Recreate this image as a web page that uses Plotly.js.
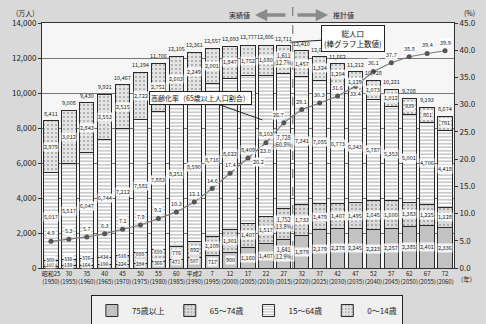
<!DOCTYPE html>
<html>
<head>
<meta charset="utf-8">
<script src="https://cdn.plot.ly/plotly-3.0.1.min.js"></script>
<style>html,body{margin:0;padding:0;background:#d9d9d9;}#chart{width:486px;height:324px;}</style>
</head>
<body>
<div id="chart"></div>
<script>
// ---- data ----
const eraLabels = ['昭和25','30','35','40','45','50','55','60','平成2','7','12','17','22','27','32','37','42','47','52','57','62','67','72'];
const westYears = [1950,1955,1960,1965,1970,1975,1980,1985,1990,1995,2000,2005,2010,2015,2020,2025,2030,2035,2040,2045,2050,2055,2060];
const totalPop = [8411,9008,9430,9921,10467,11194,11706,12105,12361,12557,12693,12777,12806,12711,12410,12066,11662,11212,10728,10221,9708,9193,8674];
const age0to14 = [2979,3012,2843,2553,2515,2722,2751,2603,2249,2001,1847,1752,1680,1611,1457,1324,1204,1129,1073,1012,939,861,791];
const age15to64 = [5017,5517,6047,6744,7212,7581,7883,8251,8590,8716,8622,8409,8103,7728,7341,7085,6773,6343,5787,5353,5001,4706,4418];
const age65to74 = [309,338,376,434,516,608,699,776,892,1109,1301,1407,1517,1752,1733,1479,1407,1495,1645,1600,1383,1225,1128];
const age75plus = [107,139,164,190,224,284,366,471,597,717,900,1160,1407,1641,1879,2179,2278,2245,2223,2257,2385,2401,2336];
const agingRate = [4.9,5.3,5.7,6.3,7.1,7.9,9.1,10.3,12.1,14.6,17.4,20.2,23.0,26.7,29.1,30.3,31.6,33.4,36.1,37.7,38.8,39.4,39.9];
const seriesNames = ['75歳以上','65～74歳','15～64歳','0～14歳'];
const shareIndex = 13; // 平成27(2015): shares shown

const idx = eraLabels.map((_, i) => i);
const tickText = eraLabels.map((e, i) => e + '<br>(' + westYears[i] + ')');
const FONT = '"Noto Sans CJK JP", "Noto Sans", sans-serif';
const fmt = v => v.toLocaleString('en-US');

// label placement tweaks (pixels) to avoid collisions, as in the reference
const rateLabelShift = {11: [10, -4, 'middle'], 12: [0, -3, 'top'], 13: [-5, 3, 'bottom'], 17: [0, -3, 'top']};
const segLabelShift = {'12-2': 12};

const barLine = {color: '#2a2a2a', width: 1};
const segs = [
  {name: seriesNames[0], y: age75plus, marker: {color: '#c2c2c2', line: barLine}},
  {name: seriesNames[1], y: age65to74, marker: {color: '#d9d9d9', line: barLine,
      pattern: {shape: '.', fgcolor: '#9a9a9a', bgcolor: '#dadada', size: 4, solidity: 0.2}}},
  {name: seriesNames[2], y: age15to64, marker: {color: '#ffffff', line: barLine,
      pattern: {shape: '-', fgcolor: '#a8a8a8', bgcolor: '#ffffff', size: 3.5, solidity: 0.3}}},
  {name: seriesNames[3], y: age0to14, marker: {color: '#e2e2e2', line: barLine,
      pattern: {shape: '.', fgcolor: '#a0a0a0', bgcolor: '#e4e4e4', size: 4, solidity: 0.2}}}
];

const traces = segs.map(s => ({
  type: 'bar', x: idx, y: s.y, name: s.name, marker: s.marker,
  width: 0.8, hoverinfo: 'skip'
}));
traces.push({
  type: 'scatter', mode: 'lines+markers', x: idx, y: agingRate, yaxis: 'y2',
  line: {color: '#7a7a7a', width: 1.2}, marker: {color: '#555', size: 5},
  showlegend: false, hoverinfo: 'skip'
});

const annotations = [];
idx.forEach(i => {
  let base = 0;
  segs.forEach((s, k) => {
    const v = s.y[i];
    let txt = fmt(v);
    if (i === shareIndex) txt += '<br>(' + (v / totalPop[i] * 100).toFixed(1) + '%)';
    const small = v < 700;
    const extra = segLabelShift[i + '-' + k] || 0;
    annotations.push({x: i, y: base + v / 2, xref: 'x', yref: 'y', text: txt, showarrow: false,
      yshift: (small ? (k === 0 ? 2.5 : 4) : 0) + extra,
      font: {size: small ? 5 : 5.5, color: '#222', family: FONT}, bgcolor: 'rgba(255,255,255,0.85)', borderpad: 0});
    base += v;
  });
  annotations.push({x: i, y: totalPop[i], xref: 'x', yref: 'y', text: fmt(totalPop[i]), showarrow: false,
    yanchor: 'bottom', yshift: 1, font: {size: 5.5, color: '#222', family: FONT}});
  const sh = rateLabelShift[i] || [0, 3, 'bottom'];
  annotations.push({x: i, y: agingRate[i], xref: 'x', yref: 'y2', text: agingRate[i].toFixed(1), showarrow: false,
    yanchor: sh[2], xshift: sh[0], yshift: sh[1],
    font: {size: 5.5, color: '#222', family: FONT}, bgcolor: 'rgba(255,255,255,0.9)', borderpad: 0});
});

const px = p => (p - 42) / 412;
const py = p => (268 - p) / 245;
const pAnn = (x, y, text, size, xanchor) => ({x: px(x), y: py(y), xref: 'paper', yref: 'paper', text: text,
  showarrow: false, xanchor: xanchor || 'center', yanchor: 'middle', font: {size: size, color: '#222', family: FONT}});
annotations.push(pAnn(25, 13, '(万人)', 7));
annotations.push(pAnn(469, 13, '(%)', 7));
annotations.push(pAnn(466, 279, '(年)', 6.5));
annotations.push(pAnn(252, 15, '実績値', 7, 'right'));
annotations.push(pAnn(331, 15, '推計値', 7, 'left'));
annotations.push({x: px(255), y: py(15), xref: 'paper', yref: 'paper', text: '', showarrow: true, arrowhead: 2, arrowsize: 0.7, arrowwidth: 3.5, arrowcolor: '#8a8a8a', ax: 32, ay: 0, standoff: 0});
annotations.push({x: px(328), y: py(15), xref: 'paper', yref: 'paper', text: '', showarrow: true, arrowhead: 2, arrowsize: 0.7, arrowwidth: 3.5, arrowcolor: '#8a8a8a', ax: -32, ay: 0, standoff: 0});
annotations.push({x: 13.35, y: 12900, xref: 'x', yref: 'y', text: '総人口<br>(棒グラフ上数値)', showarrow: true, arrowhead: 0, arrowwidth: 1, arrowcolor: '#222',
  ax: 63, ay: -4, font: {size: 7.5, color: '#111', family: FONT}, bgcolor: '#ffffff', bordercolor: '#222', borderwidth: 1, borderpad: 2});
annotations.push({x: 11.8, y: 27.2, xref: 'x', yref: 'y2', text: '高齢化率（65歳以上人口割合）', showarrow: true, arrowhead: 0, arrowwidth: 1, arrowcolor: '#222',
  ax: -62, ay: -22, font: {size: 7, color: '#111', family: FONT}, bgcolor: '#ffffff', bordercolor: '#222', borderwidth: 1, borderpad: 1});

const layout = {
  width: 486, height: 324,
  margin: {l: 42, r: 32, t: 23, b: 56, autoexpand: false},
  paper_bgcolor: '#d9d9d9', plot_bgcolor: '#f6f6f6',
  font: {family: FONT, color: '#222'},
  barmode: 'stack', bargap: 0.18,
  showlegend: true,
  legend: {orientation: 'h', xref: 'container', yref: 'container', x: 0.508, xanchor: 'center', y: 1 - 295 / 324, yanchor: 'top',
    bgcolor: '#f0f0f0', bordercolor: '#222', borderwidth: 1, traceorder: 'normal',
    itemwidth: 30, tracegroupgap: 0,
    font: {size: 8, family: FONT, color: '#222'}},
  xaxis: {range: [-0.5, 22.5], tickmode: 'array', tickvals: idx, ticktext: tickText, ticks: '', tickangle: 0,
    tickfont: {size: 6, family: FONT, color: '#222'}, showline: true, linecolor: '#333', mirror: true,
    showgrid: false, zeroline: false, fixedrange: true, automargin: false},
  yaxis: {range: [0, 14000], dtick: 2000, tickformat: ',d', ticks: 'outside', ticklen: 3, tickcolor: '#333',
    showgrid: true, gridcolor: '#555', gridwidth: 0.8, showline: true, linecolor: '#333', zeroline: false,
    tickfont: {size: 8, family: FONT, color: '#222'}, automargin: false},
  yaxis2: {range: [0, 45], dtick: 5, tickformat: '.1f', overlaying: 'y', side: 'right', ticks: 'outside', ticklen: 3,
    tickcolor: '#333', showgrid: false, showline: true, linecolor: '#333', zeroline: false,
    tickfont: {size: 8, family: FONT, color: '#222'}, automargin: false},
  shapes: [{type: 'line', xref: 'x', yref: 'paper', x0: 13.5, x1: 13.5, y0: 0, y1: py(4),
    line: {color: '#666', width: 1, dash: 'dash'}}],
  annotations: annotations
};

Plotly.newPlot('chart', traces, layout, {displayModeBar: false, staticPlot: true});
</script>
</body>
</html>
